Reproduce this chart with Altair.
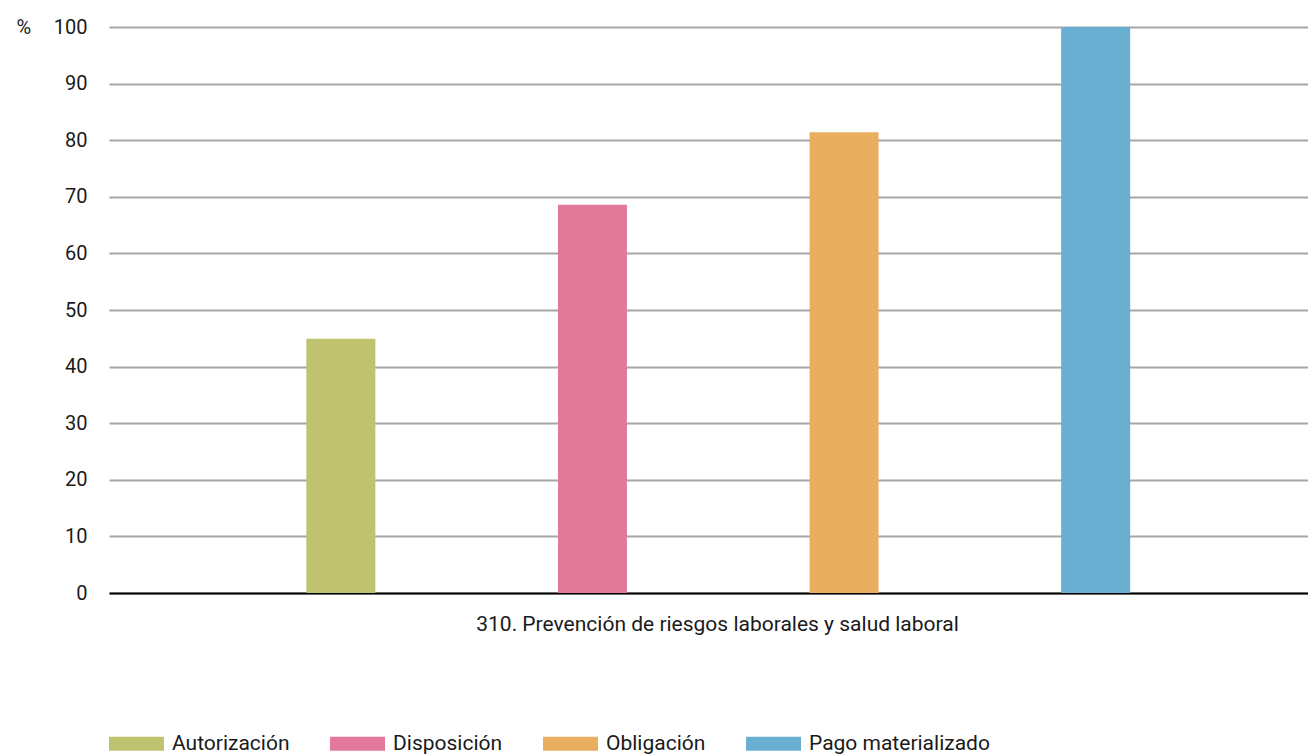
import altair as alt
import pandas as pd

series = ["Autorización", "Disposición", "Obligación", "Pago materializado"]
values = [44.9, 68.6, 81.4, 100.0]
colors = ["#BFC26E", "#E2799A", "#E9AE5F", "#69AFD2"]
category = "310. Prevención de riesgos laborales y salud laboral"
y_ticks = [0, 10, 20, 30, 40, 50, 60, 70, 80, 90, 100]

df = pd.DataFrame({"serie": series, "valor": values})

FONT = "Roboto"
TXT = "#1a1a1a"

chart = alt.Chart(df).mark_bar().encode(
    x=alt.X(
        "serie:N",
        sort=series,
        scale=alt.Scale(paddingInner=0.7258, paddingOuter=0.7456, align=0.526),
        axis=alt.Axis(
            title=category,
            labels=False,
            ticks=False,
            domain=True,
            domainColor="#000000",
            domainWidth=2,
            titleFontWeight="normal",
            titleFontSize=21,
            titleFont=FONT,
            titleColor=TXT,
            titlePadding=20,
            titleX=608,
        ),
    ),
    y=alt.Y(
        "valor:Q",
        scale=alt.Scale(domain=[0, 100]),
        axis=alt.Axis(
            values=y_ticks,
            title="%",
            titleAngle=0,
            titleX=-93,
            titleY=0,
            titleAlign="left",
            titleBaseline="middle",
            titleFontWeight="normal",
            titleFontSize=20,
            titleFont=FONT,
            titleColor=TXT,
            domain=False,
            ticks=False,
            labelPadding=22,
            labelFontSize=20,
            labelFont=FONT,
            labelColor=TXT,
            grid=True,
            gridColor="#a6a6a6",
            gridWidth=2,
        ),
    ),
    color=alt.Color(
        "serie:N",
        sort=series,
        scale=alt.Scale(domain=series, range=colors),
        legend=alt.Legend(
            title=None,
            orient="none",
            legendX=0,
            legendY=689,
            direction="horizontal",
            columns=4,
            columnPadding=40,
            padding=0,
            symbolType="M-1,-0.2545H1V0.2545H-1Z",
            symbolSize=3025,
            symbolStrokeWidth=0,
            symbolOpacity=1,
            labelOffset=8,
            labelFontSize=21,
            labelFont=FONT,
            labelColor=TXT,
            labelLimit=400,
        ),
    ),
).properties(
    width=1199,
    height=566,
    autosize=alt.AutoSizeParams(type="none"),
    padding={"left": 101, "top": 19, "right": 0, "bottom": 162},
).configure_view(stroke=None)

chart.save("out.html", embed_options={"renderer": "svg", "actions": False})
